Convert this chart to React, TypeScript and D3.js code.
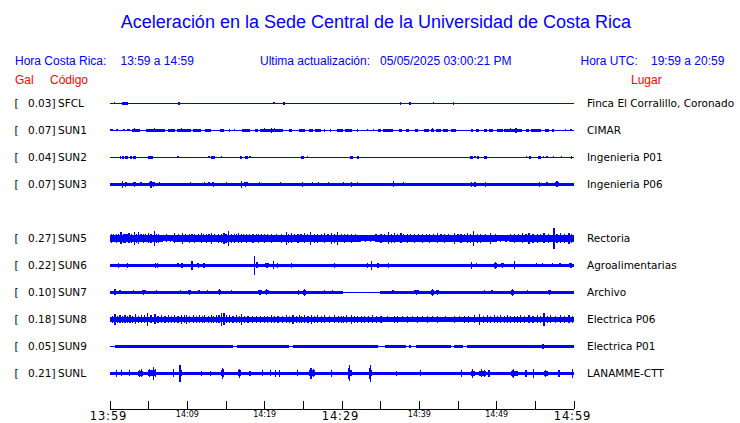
import React from "react";
import * as d3 from "d3";

type Span = [number, number, number]; // [startMinute, endMinute, amplitude]
type Spike = [number, number]; // [minute, amplitude]

// ---------- station metadata ----------
const ROW_ORDER = ["SFCL", "SUN1", "SUN2", "SUN3", "SUN4", "SUN5", "SUN6", "SUN7", "SUN8", "SUN9", "SUNL"];
const CODES = ["SFCL", "SUN1", "SUN2", "SUN3", "SUN5", "SUN6", "SUN7", "SUN8", "SUN9", "SUNL"];
const GAL = [0.03, 0.07, 0.04, 0.07, 0.27, 0.22, 0.1, 0.18, 0.05, 0.21];
const PLACES = [
  "Finca El Corralillo, Coronado",
  "CIMAR",
  "Ingenieria P01",
  "Ingenieria P06",
  "Rectoria",
  "Agroalimentarias",
  "Archivo",
  "Electrica P06",
  "Electrica P01",
  "LANAMME-CTT",
];

// ---------- header texts ----------
const TITLE = "Aceleración en la Sede Central de la Universidad de Costa Rica";
const LOCAL_LABEL = "Hora Costa Rica:";
const LOCAL_RANGE = "13:59 a 14:59";
const UPDATE_LABEL = "Ultima actualización:";
const UPDATE_VALUE = "05/05/2025 03:00:21 PM";
const UTC_LABEL = "Hora UTC:";
const UTC_RANGE = "19:59 a 20:59";

// ---------- time axis (minutes after 13:59) ----------
const TICK_MINUTES = [0, 5, 10, 15, 20, 25, 30, 35, 40, 45, 50, 55, 60];
const LABEL_MINUTES = [0, 10, 20, 30, 40, 50, 60];
const BIG_LABEL_MINUTES = [0, 30, 60];

// ---------- traces (amplitude 0..100 relative) ----------
const SFCL_LEVEL: Span[] = [[0, 60, 4]];
const SFCL_BURSTS: Span[] = [[1.6, 2.3, 10], [8.8, 9.05, 12], [38.6, 38.9, 12]];
const SFCL_SPIKES: Spike[] = [[0.56, 8], [1.1, 6], [2.6, 6], [21.2, 8], [22.5, 12], [22.9, 6], [37.6, 12], [41.8, 8], [44.4, 12]];

const SUN1_LEVEL: Span[] = [[0, 60, 4]];
const SUN1_BURSTS: Span[] = [
  [0, 0.4, 9], [1.7, 1.9, 8], [2.15, 2.6, 8], [2.8, 3.9, 12], [4.7, 7.1, 12], [7.5, 8.4, 12], [8.6, 10.5, 12],
  [10.75, 11.8, 10], [12.3, 13.1, 12], [14.2, 14.8, 10], [17.1, 18.1, 10], [18.7, 19.1, 10], [19.35, 22.4, 12],
  [23.2, 23.5, 10], [24.4, 25.2, 12], [25.7, 26.2, 12], [26.5, 27.3, 12], [28.4, 28.6, 10], [29.4, 30.1, 12],
  [30.4, 31.3, 12], [34.6, 35.1, 10], [35.3, 36.6, 12], [37.4, 37.8, 12], [38.3, 38.7, 12], [39.4, 39.8, 10],
  [40.6, 41.3, 12], [41.5, 41.9, 12], [42.1, 42.8, 12], [43, 43.7, 12], [44.1, 44.7, 12], [46.7, 46.9, 10],
  [47.3, 47.7, 12], [48.4, 48.8, 10], [49, 49.5, 12], [50.1, 50.8, 12], [51, 53.3, 12], [53.8, 54.2, 10],
  [54.4, 55.7, 12], [56.3, 56.8, 12], [57.2, 57.4, 10],
];
const SUN1_SPIKES: Spike[] = [
  [0.9, 8], [3.2, 16], [5.8, 15], [9.2, 15], [15.5, 10], [16.1, 8], [20, 15], [20.9, 17], [21.3, 15], [27.7, 10],
  [32, 10], [33.3, 8], [34.1, 8], [41.7, 16], [51.8, 15], [52.5, 18], [58.9, 8], [59.6, 8],
];

const SUN2_LEVEL: Span[] = [[0, 60, 4]];
const SUN2_BURSTS: Span[] = [
  [1.6, 1.85, 10], [2.0, 2.3, 10], [2.6, 2.8, 10], [3.0, 3.3, 10], [4.9, 5.5, 10], [13.1, 13.6, 10], [16.8, 17.1, 10],
  [17.4, 17.8, 10], [24.7, 25.1, 10], [31, 31.4, 10], [31.95, 32.2, 10], [46.6, 46.9, 10], [47.5, 47.7, 10],
  [48.4, 48.7, 10], [54.2, 54.4, 10], [55.3, 55.7, 10], [59.6, 59.8, 10],
];
const SUN2_SPIKES: Spike[] = [
  [1.4, 13], [8.8, 9], [12.8, 7], [14.4, 9], [18.1, 7], [23.7, 6], [25.5, 7], [26.8, 6], [28, 6], [36.7, 6],
  [47.2, 7], [49.6, 6], [53.9, 7], [56.1, 7], [56.5, 7], [57.4, 7], [58.4, 7],
];

const SUN3_LEVEL: Span[] = [[0, 60, 10]];
const SUN3_BURSTS: Span[] = [
  [1.9, 2.15, 14], [3, 3.3, 14], [5, 5.8, 14], [13.2, 13.5, 14], [17.3, 17.8, 14], [31, 31.4, 13],
  [46.5, 47.4, 13], [56.1, 57, 12], [57.5, 58.1, 14],
];
const SUN3_SPIKES: Spike[] = [
  [1.6, 25], [2.05, 18], [3.15, 18], [4, 15], [5.3, 25], [5.6, 18], [6.45, 15], [10.45, 15], [12.2, 15],
  [12.8, 15], [13.35, 20], [15.05, 15], [17, 25], [17.55, 18], [19.35, 15], [22, 15], [24.9, 18], [26.2, 15],
  [27, 15], [28.3, 15], [30.2, 15], [31.2, 18], [32, 15], [33.2, 13], [36.7, 22], [38, 15], [39.1, 13],
  [44.3, 13], [46.7, 18], [47.2, 18], [48.6, 18], [55.5, 18], [56.5, 15], [57.8, 22],
];

const SUN5_LEVEL: Span[] = [[0, 6.9, 25], [6.9, 8.2, 23], [8.2, 32.5, 25], [32.5, 34.4, 23], [34.4, 50.1, 25], [50.1, 51.6, 23], [51.6, 60, 25]];
const SUN5_BURSTS: Span[] = [];
const SUN5_SPIKES: Spike[] = [
  [0.2, 33], [0.5, 30], [0.86, 36], [1.15, 31], [1.42, 46], [1.7, 33], [1.94, 34], [2.2, 30], [2.45, 38],
  [2.8, 33], [3.14, 52], [3.4, 36], [3.66, 45], [4, 32], [4.3, 36], [4.6, 31], [4.95, 38], [5.3, 34],
  [5.72, 56], [6, 33], [6.32, 35], [6.8, 29], [7.31, 30], [7.8, 28], [8.39, 38], [8.9, 32], [9.33, 40],
  [9.8, 31], [10.32, 36], [10.6, 30], [10.97, 34], [11.4, 31], [11.83, 38], [12.1, 30], [12.47, 33],
  [12.8, 31], [13.12, 42], [13.5, 32], [13.98, 36], [14.4, 33], [14.75, 40], [15, 34], [15.35, 56],
  [15.7, 35], [16.13, 36], [16.4, 32], [16.6, 38], [16.99, 35], [17.3, 31], [17.63, 34], [18, 30],
  [18.49, 36], [18.9, 31], [19.23, 33], [19.6, 30], [20, 36], [20.4, 31], [20.86, 34], [21.5, 30],
  [22.15, 36], [22.8, 48], [23.1, 33], [23.44, 38], [23.9, 31], [24.3, 36], [24.7, 32], [25.16, 38],
  [25.5, 32], [25.94, 48], [26.4, 33], [26.88, 36], [27.3, 31], [27.74, 38], [28.2, 32], [28.6, 40],
  [29, 33], [29.46, 50], [29.9, 32], [30.32, 36], [30.7, 31], [31.18, 34], [31.7, 30], [32.3, 28],
  [33, 29], [33.7, 28], [34.4, 30], [35.05, 36], [35.5, 31], [36, 46], [36.4, 33], [36.77, 38], [37.2, 31],
  [37.63, 38], [38, 32], [38.49, 34], [38.9, 30], [39.35, 36], [39.9, 31], [40.43, 34], [40.9, 30],
  [41.29, 36], [41.8, 31], [42.37, 38], [42.8, 32], [43.23, 36], [43.8, 31], [44.52, 42], [45, 32],
  [45.38, 35], [45.8, 31], [46.24, 38], [46.6, 33], [47.01, 56], [47.5, 34], [47.96, 36], [48.6, 31],
  [49.25, 40], [49.8, 31], [50.5, 28], [51.2, 29], [51.8, 31], [52.26, 36], [52.8, 32], [53.33, 38],
  [53.8, 32], [54.19, 40], [54.7, 33], [55.27, 36], [55.7, 32], [56.13, 38], [56.7, 33], [57.42, 82],
  [57.8, 36], [58.28, 38], [58.8, 33], [59.35, 40], [59.7, 34],
];

const SUN6_LEVEL: Span[] = [[0, 60, 10]];
const SUN6_BURSTS: Span[] = [
  [7.5, 8.2, 12], [11.3, 11.5, 16], [12.05, 12.25, 16], [12.7, 13.5, 12], [18.9, 19.1, 16], [20, 20.6, 14],
  [32.3, 32.9, 12], [34.5, 34.8, 16], [38.3, 38.9, 12], [49.7, 50, 18], [50.6, 50.97, 15], [55.7, 56.1, 13],
  [59.4, 59.8, 15],
];
const SUN6_SPIKES: Spike[] = [
  [0.2, 12], [1.1, 18], [2.3, 18], [4.5, 12], [5.9, 18], [6.15, 18], [8.8, 15], [9.3, 18], [10.6, 35],
  [11.4, 20], [12.15, 20], [18.7, 75], [19, 22], [20.3, 18], [21.1, 30], [21.7, 18], [23.5, 18], [25.9, 13],
  [29, 18], [33.3, 20], [33.85, 35], [34.65, 20], [36, 18], [46.75, 28], [47.4, 15], [49.85, 28], [50.8, 20],
  [52.3, 32], [55.2, 15], [55.9, 15], [57.2, 15], [58.2, 15], [59.6, 20],
];

const SUN7_LEVEL: Span[] = [[0, 30.1, 10], [30.1, 34.85, 4], [34.85, 60, 10]];
const SUN7_BURSTS: Span[] = [
  [1.1, 1.5, 13], [4.1, 4.6, 15], [8.9, 9.3, 13], [10.1, 10.5, 14], [14, 14.3, 15], [19.2, 19.6, 14],
  [20, 20.5, 15], [24.3, 24.5, 14], [24.95, 25.4, 17], [28.6, 29, 13], [39.3, 39.9, 14], [41.5, 41.9, 17],
  [42.2, 42.6, 14], [49.2, 49.6, 13], [51.9, 52.2, 17], [56.6, 57, 14],
];
const SUN7_SPIKES: Spike[] = [
  [0.65, 22], [1.3, 15], [3, 15], [4.35, 20], [6, 15], [9.1, 15], [10.3, 18], [11.5, 15], [12.6, 15],
  [14.15, 22], [15.7, 15], [19.4, 18], [20.25, 22], [21.8, 12], [24.4, 18], [25.2, 25], [27.7, 15],
  [28.8, 15], [29.5, 13], [35.4, 13], [36.6, 15], [39.6, 18], [41.7, 25], [42.4, 18], [45.2, 12], [48.4, 15],
  [49.4, 15], [52.05, 28], [54, 15], [56.8, 18],
];

const SUN8_LEVEL: Span[] = [[0, 60, 18]];
const SUN8_BURSTS: Span[] = [[0, 17, 21], [22, 31, 21]];
const SUN8_SPIKES: Spike[] = [
  [0.3, 28], [0.65, 42], [1, 28], [1.29, 30], [1.6, 27], [1.94, 32], [2.25, 28], [2.58, 30], [2.9, 29],
  [3.31, 38], [3.7, 29], [4.09, 32], [4.5, 30], [4.86, 52], [5.3, 30], [5.81, 38], [6.2, 29], [6.67, 30],
  [7.1, 27], [7.53, 30], [8, 28], [8.39, 32], [8.8, 28], [9.25, 36], [9.6, 30], [9.89, 34], [10.3, 28],
  [10.75, 30], [11.2, 27], [11.61, 30], [12, 28], [12.26, 32], [12.7, 28], [13.12, 30], [13.4, 27],
  [13.76, 32], [14.1, 30], [14.41, 48], [14.75, 46], [15.1, 30], [15.48, 32], [15.9, 28], [16.34, 30],
  [16.7, 28], [16.99, 42], [17.4, 26], [17.85, 28], [18.4, 25], [18.92, 28], [19.5, 25], [20, 28],
  [20.4, 25], [20.86, 30], [21.3, 26], [21.72, 28], [22.3, 27], [22.8, 32], [23.2, 28], [23.66, 34],
  [24.1, 28], [24.52, 30], [24.8, 27], [25.16, 30], [25.6, 28], [26.02, 36], [26.4, 28], [26.88, 30],
  [27.3, 27], [27.74, 30], [28.4, 27], [29.03, 32], [29.5, 27], [29.89, 28], [30.2, 26], [30.54, 30],
  [31.18, 36], [31.6, 26], [32.04, 28], [32.5, 25], [32.9, 28], [33.4, 25], [33.98, 32], [34.5, 25],
  [35.05, 26], [35.9, 24], [36.77, 26], [37.2, 28], [37.8, 24], [38.49, 26], [39.1, 24], [39.78, 28],
  [40.4, 24], [41.08, 26], [41.7, 24], [42.37, 28], [43.4, 24], [44.52, 26], [45.2, 24], [45.81, 28],
  [46.4, 25], [47.1, 30], [47.74, 42], [48.3, 27], [48.82, 30], [49.2, 26], [49.68, 30], [50.1, 26],
  [50.54, 30], [51, 26], [51.4, 30], [51.8, 26], [52.26, 28], [52.7, 26], [53.12, 30], [53.6, 27],
  [54.19, 32], [54.7, 27], [55.27, 30], [55.7, 27], [56.13, 48], [56.6, 28], [56.99, 32], [57.6, 27],
  [58.28, 30], [58.8, 27], [59.35, 30], [59.8, 27],
];

const SUN9_LEVEL: Span[] = [
  [0, 0.7, 5], [0.7, 15.9, 10], [15.9, 16.4, 6], [16.4, 23.2, 10], [23.2, 23.6, 6], [23.6, 34.6, 10],
  [34.6, 35.5, 6], [35.5, 38.3, 10], [38.3, 39.6, 6], [39.6, 44.1, 10], [44.1, 44.5, 6], [44.5, 45.6, 10],
  [45.6, 46.1, 6], [46.1, 60, 10],
];
const SUN9_BURSTS: Span[] = [];
const SUN9_SPIKES: Spike[] = [[0.85, 13], [1.5, 13], [14, 12], [17.5, 12], [26, 12], [31, 13], [38.8, 10], [47, 12], [56, 18]];

const SUNL_LEVEL: Span[] = [[0, 60, 13]];
const SUNL_BURSTS: Span[] = [
  [2.4, 2.6, 18], [3.65, 4.3, 20], [4.9, 6, 22], [8.9, 9.25, 24], [14.3, 14.8, 22], [16.5, 16.9, 22],
  [19.6, 19.8, 18], [25.7, 26.5, 22], [30.8, 31.3, 24], [33.5, 33.85, 24], [46.7, 47.2, 20], [47.7, 48.6, 19],
  [51.8, 52.7, 20], [56.1, 56.6, 18],
];
const SUNL_SPIKES: Spike[] = [
  [0.85, 25], [1.5, 22], [2.5, 22], [3.8, 28], [4.1, 30], [5.1, 30], [5.6, 48], [5.85, 32], [8.2, 30],
  [9.05, 66], [11.8, 20], [13, 18], [14.5, 40], [14.7, 30], [16.7, 36], [18.1, 20], [19.7, 22], [20.8, 22],
  [21.4, 28], [21.9, 25], [24.2, 22], [25.9, 32], [26, 40], [26.3, 30], [28.6, 25], [30.9, 40], [31, 62],
  [33.6, 40], [33.7, 66], [37, 20], [40.2, 22], [45.5, 25], [46.9, 34], [48, 30], [48.4, 26], [49, 25],
  [52, 28], [52.2, 34], [53.8, 28], [54.8, 35], [56.3, 25], [58.05, 28], [59.8, 35],
];

const LEVELS = [SFCL_LEVEL, SUN1_LEVEL, SUN2_LEVEL, SUN3_LEVEL, SUN5_LEVEL, SUN6_LEVEL, SUN7_LEVEL, SUN8_LEVEL, SUN9_LEVEL, SUNL_LEVEL];
const BURSTS = [SFCL_BURSTS, SUN1_BURSTS, SUN2_BURSTS, SUN3_BURSTS, SUN5_BURSTS, SUN6_BURSTS, SUN7_BURSTS, SUN8_BURSTS, SUN9_BURSTS, SUNL_BURSTS];
const SPIKES = [SFCL_SPIKES, SUN1_SPIKES, SUN2_SPIKES, SUN3_SPIKES, SUN5_SPIKES, SUN6_SPIKES, SUN7_SPIKES, SUN8_SPIKES, SUN9_SPIKES, SUNL_SPIKES];

const W = 740;
const H = 423;
const BLUE = "#0000ff";
const RED = "#ff0000";
const HEAD_FONT = "'Liberation Sans', Arial, sans-serif";
const LABEL_FONT = "'DejaVu Sans', sans-serif";

export default function App() {
  const t0 = new Date(2025, 4, 5, 13, 59, 0);
  const t1 = new Date(2025, 4, 5, 14, 59, 0);
  const at = (m: number) => new Date(t0.getTime() + m * 60000);
  const x = d3.scaleTime().domain([t0, t1]).range([110, 574]);
  const y = d3.scalePoint<string>().domain(ROW_ORDER).range([103.3, 373.3]);
  const a = d3.scaleLinear().domain([0, 100]).range([0, 13]);
  const fmt = d3.timeFormat("%H:%M");
  const axisY = 409;

  const stations = CODES.map((code, i) => ({
    code,
    gal: GAL[i],
    place: PLACES[i],
    level: LEVELS[i],
    bursts: BURSTS[i],
    spikes: SPIKES[i],
  }));

  const spanRect = (s: Span, cy: number, key: string) => {
    const x0 = x(at(s[0]));
    const x1 = x(at(s[1]));
    const h = a(s[2]);
    return <rect key={key} x={x0} width={Math.max(1, x1 - x0)} y={cy - h} height={2 * h} fill={BLUE} />;
  };

  return (
    <svg
      width={W}
      height={H}
      viewBox={`0 0 ${W} ${H}`}
      style={{ position: "absolute", left: 0, top: 0, background: "#fff" }}
    >
      <rect width={W} height={H} fill="#fff" />
      <text x={376} y={28} textAnchor="middle" fontFamily={HEAD_FONT} fontSize={18} fill={BLUE}>
        {TITLE}
      </text>

      <g fontFamily={HEAD_FONT} fontSize={12} fill={BLUE}>
        <text x={15} y={65}>{LOCAL_LABEL}</text>
        <text x={120.5} y={65}>{LOCAL_RANGE}</text>
        <text x={260} y={65}>{UPDATE_LABEL}</text>
        <text x={380} y={65}>{UPDATE_VALUE}</text>
        <text x={580.5} y={65}>{UTC_LABEL}</text>
        <text x={651} y={65}>{UTC_RANGE}</text>
      </g>
      <g fontFamily={HEAD_FONT} fontSize={12} fill={RED}>
        <text x={15} y={84}>Gal</text>
        <text x={50} y={84}>Código</text>
        <text x={631} y={84}>Lugar</text>
      </g>

      {stations.map((s) => {
        const cy = y(s.code) as number;
        return (
          <g key={s.code}>
            <g fontFamily={LABEL_FONT} fontSize={10.5} fill="#000">
              <text x={14.5} y={cy + 4}>[</text>
              <text x={55.5} y={cy + 4} textAnchor="end">{`${s.gal.toFixed(2)}]`}</text>
              <text x={58} y={cy + 4}>{s.code}</text>
              <text x={587} y={cy + 4}>{s.place}</text>
            </g>
            <g shapeRendering="crispEdges">
              {s.level.map((sp, j) => spanRect(sp, cy, `l${j}`))}
              {s.bursts.map((sp, j) => spanRect(sp, cy, `b${j}`))}
              {s.spikes.map((sp, j) => {
                const h = a(sp[1]);
                return <rect key={`s${j}`} x={x(at(sp[0])) - 0.6} width={1.2} y={cy - h} height={2 * h} fill={BLUE} />;
              })}
            </g>
          </g>
        );
      })}

      <g shapeRendering="crispEdges">
        <line x1={x(t0)} x2={x(t1)} y1={axisY} y2={axisY} stroke="#000" strokeWidth={1} />
        {TICK_MINUTES.map((m) => (
          <line key={m} x1={x(at(m))} x2={x(at(m))} y1={axisY - 8} y2={axisY} stroke="#000" strokeWidth={1} />
        ))}
      </g>
      {LABEL_MINUTES.map((m) => {
        const big = BIG_LABEL_MINUTES.includes(m);
        return (
          <text
            key={m}
            x={x(at(m)) + (big ? -1.5 : 0)}
            y={big ? 419.5 : 417}
            textAnchor="middle"
            fontFamily={LABEL_FONT}
            fontSize={big ? 11.5 : 8}
            letterSpacing={big ? 0.9 : 0}
            fill="#000"
          >
            {fmt(at(m))}
          </text>
        );
      })}
    </svg>
  );
}
